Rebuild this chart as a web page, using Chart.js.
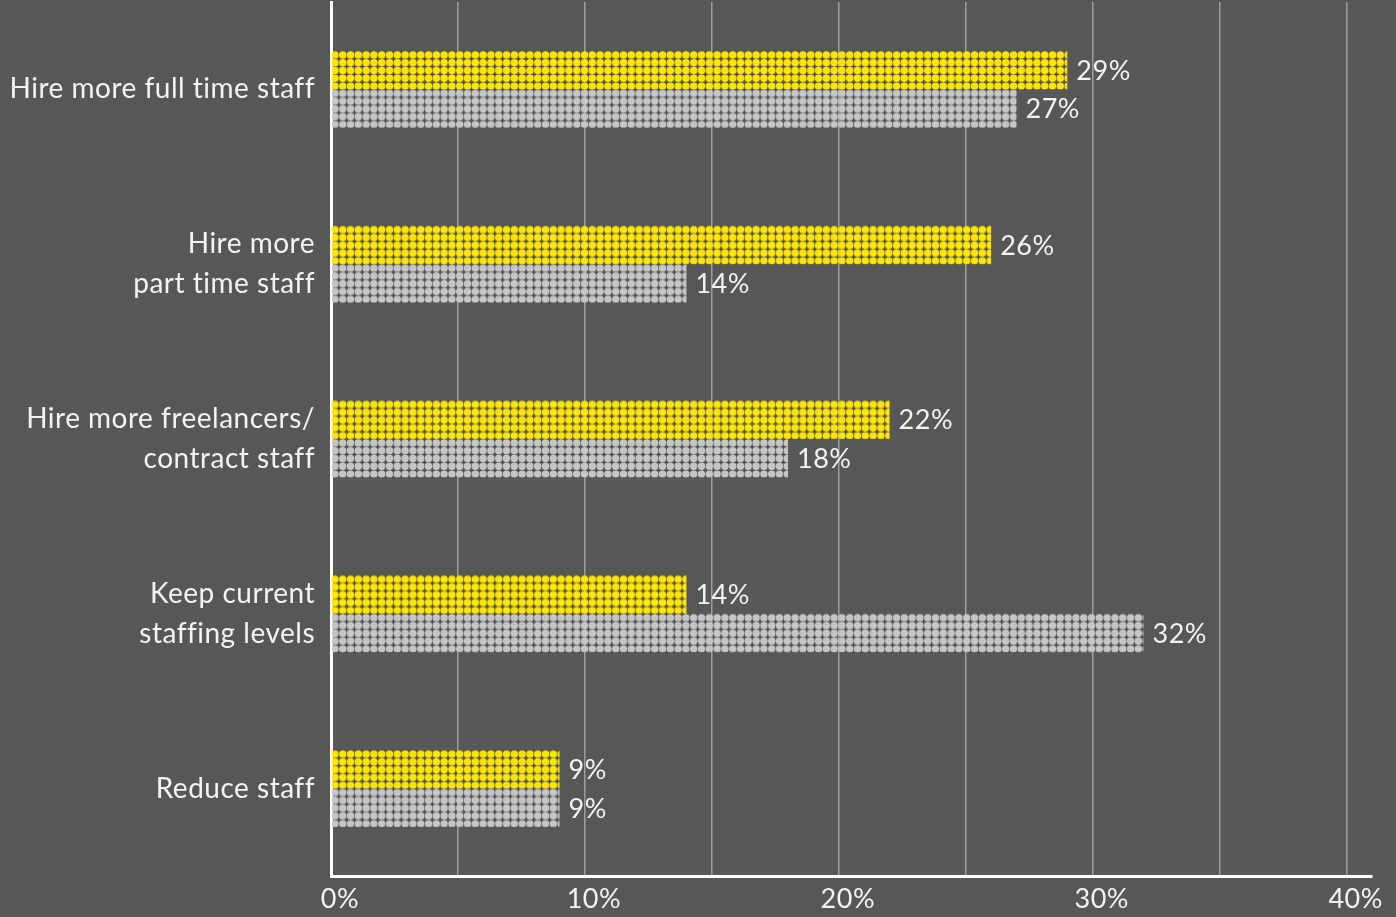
<!DOCTYPE html>
<html lang="en">
<head>
  <meta charset="UTF-8">
  <title>Staffing plans</title>
  <script src="https://cdn.jsdelivr.net/npm/chart.js"></script>
  <style>
    html, body { margin: 0; padding: 0; background: #575756; }
    #wrap { width: 1396px; height: 917px; }
  </style>
</head>
<body>
  <div id="wrap"><canvas id="chart"></canvas></div>
  <script>
    // data
    const categories = [
      'Hire more full time staff',
      ['Hire more', 'part time staff'],
      ['Hire more freelancers/', 'contract staff'],
      ['Keep current', 'staffing levels'],
      'Reduce staff'
    ];
    const yellowValues = [29, 26, 22, 14, 9];
    const greyValues = [27, 14, 18, 32, 9];
    const xTickValues = [0, 10, 20, 30, 40];

    const YELLOW = '#ffe600';
    const GREY = '#c6c6c6';
    const FONT = 'Lato, "Noto Sans", sans-serif';
    const CAT_PCT = 0.44;

    // dotted fill, 5x5 dots per tile, aligned to each bar
    function dotTile(color) {
      const c = document.createElement('canvas');
      c.width = 39; c.height = 39;
      const g = c.getContext('2d');
      g.fillStyle = color;
      for (let i = 0; i < 5; i++) {
        for (let j = 0; j < 5; j++) {
          g.beginPath();
          g.arc(3.9 + i * 7.8, 3.9 + j * 7.8, 3.7, 0, Math.PI * 2);
          g.fill();
        }
      }
      return c;
    }
    const tiles = { yellow: dotTile(YELLOW), grey: dotTile(GREY) };

    function dotFill(which, dsIndex) {
      return (ctx) => {
        const chart = ctx.chart;
        const x = chart.scales.x, y = chart.scales.y;
        if (!x || !y || ctx.dataIndex === undefined) return which === 'yellow' ? YELLOW : GREY;
        const band = (y.bottom - y.top) / categories.length;
        const centre = y.getPixelForValue(ctx.dataIndex);
        const top = dsIndex === 0 ? centre - band * CAT_PCT / 2 : centre;
        const p = chart.ctx.createPattern(tiles[which], 'repeat');
        p.setTransform(new DOMMatrix().translate(x.getPixelForValue(0), top));
        return p;
      };
    }

    // no ligatures (ti, ffi) and a touch wider text
    const spacing = {
      id: 'spacing',
      beforeDraw(chart) { chart.ctx.letterSpacing = '0.5px'; }
    };

    const valueLabels = {
      id: 'valueLabels',
      afterDatasetsDraw(chart) {
        const ctx = chart.ctx;
        ctx.save();
        ctx.font = '27px ' + FONT;
        ctx.fillStyle = '#f4f4f4';
        ctx.textBaseline = 'middle';
        ctx.textAlign = 'left';
        chart.data.datasets.forEach((ds, i) => {
          chart.getDatasetMeta(i).data.forEach((bar, j) => {
            ctx.fillText(ds.data[j] + '%', bar.x + 9, bar.y + 1);
          });
        });
        ctx.restore();
      }
    };

    new Chart(document.getElementById('chart'), {
      type: 'bar',
      data: {
        labels: categories,
        datasets: [
          { label: 'Yellow', data: yellowValues, backgroundColor: dotFill('yellow', 0) },
          { label: 'Grey', data: greyValues, backgroundColor: dotFill('grey', 1) }
        ]
      },
      options: {
        indexAxis: 'y',
        responsive: true,
        maintainAspectRatio: false,
        animation: false,
        layout: { padding: { top: 2, right: 24, left: 0, bottom: 0 } },
        datasets: { bar: { barPercentage: 1, categoryPercentage: CAT_PCT, borderWidth: 0 } },
        plugins: { legend: { display: false }, tooltip: { enabled: false } },
        scales: {
          x: {
            min: 0,
            max: 41,
            afterFit(scale) { scale.height = 41; scale.paddingLeft = 0; scale.paddingRight = 0; },
            afterBuildTicks(scale) {
              const t = [];
              for (let v = 0; v <= 40; v += 5) t.push({ value: v });
              scale.ticks = t;
            },
            border: { display: true, color: '#ffffff', width: 3 },
            grid: {
              drawTicks: false,
              lineWidth: 1.5,
              color: (c) => (c.tick && c.tick.value === 0) ? 'rgba(0,0,0,0)' : '#9d9d9b'
            },
            ticks: {
              autoSkip: false,
              maxRotation: 0,
              padding: 7,
              labelOffset: 9,
              color: '#f4f4f4',
              font: { family: FONT, size: 27 },
              callback: (v) => xTickValues.includes(v) ? v + '%' : ''
            }
          },
          y: {
            afterFit(scale) { scale.width = 331; scale.paddingTop = 0; scale.paddingBottom = 0; },
            border: { display: true, color: '#ffffff', width: 3 },
            grid: { display: false, drawTicks: false },
            ticks: {
              padding: 16,
              color: '#f4f4f4',
              font: { family: FONT, size: 28, lineHeight: 1.43 }
            }
          }
        }
      },
      plugins: [spacing, valueLabels]
    });
  </script>
</body>
</html>
